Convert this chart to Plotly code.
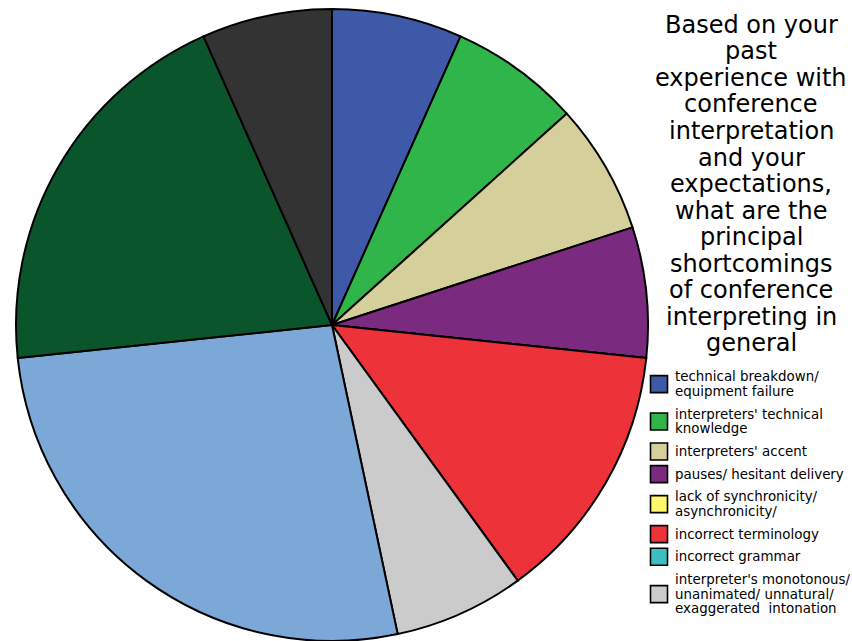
import plotly.graph_objects as go

# Survey responses: number of respondents naming each shortcoming
labels = [
    "technical breakdown/<br>equipment failure",
    "interpreters' technical<br>knowledge",
    "interpreters' accent",
    "pauses/ hesitant delivery",
    "lack of synchronicity/<br>asynchronicity/",
    "incorrect terminology",
    "incorrect grammar",
    "interpreter's monotonous/<br>unanimated/ unnatural/<br>exaggerated  intonation",
    "incomplete rendition/<br>omissions",
    "interpreters' voice/<br>delivery",
    "other",
]
counts = [1, 1, 1, 1, 0, 2, 0, 1, 4, 3, 1]
colors = [
    "#3F59A9", "#2FB54A", "#D5CF9B", "#7A2A7F", "#FFF86D", "#EE3239",
    "#3DBFC1", "#CBCBCB", "#7BA8D6", "#0B552D", "#333333",
]

title_lines = [
    "Based on your", "past", "experience with", "conference",
    "interpretation", "and your", "expectations,", "what are the",
    "principal", "shortcomings", "of conference", "interpreting in",
    "general",
]

W, H = 852, 641
FONT = "DejaVu Sans"


def px(x):
    return x / W


def py(y):
    return 1 - y / H


fig = go.Figure(
    go.Pie(
        labels=labels,
        values=counts,
        sort=False,
        direction="clockwise",
        rotation=0,
        marker=dict(colors=colors, line=dict(color="#000000", width=2)),
        textinfo="none",
        hoverinfo="label+value+percent",
        showlegend=False,
        domain=dict(x=[px(16), px(648)], y=[0, py(9)]),
    )
)

# Question text, one centred line at a time
for i, line in enumerate(title_lines):
    fig.add_annotation(
        text=line,
        x=px(751),
        y=py(25 + i * 26.5),
        xref="paper",
        yref="paper",
        xanchor="center",
        yanchor="middle",
        showarrow=False,
        font=dict(family=FONT, size=24, color="#000000"),
    )

# Key: a bordered swatch beside each (possibly multi-line) label,
# listed downwards until the space below the question runs out
LINE_STEP = 14.8
ITEM_STEP = 22.6
y_line = 376.7
for label, color in zip(labels, colors):
    parts = label.split("<br>")
    y_last = y_line + (len(parts) - 1) * LINE_STEP
    if y_last + 7 > H:
        break
    y_mid = (y_line + y_last) / 2
    fig.add_shape(
        type="rect",
        xref="paper",
        yref="paper",
        x0=px(650.5),
        x1=px(667.5),
        y0=py(y_mid - 8.5),
        y1=py(y_mid + 8.5),
        fillcolor=color,
        line=dict(color="#000000", width=1.6),
    )
    for j, part in enumerate(parts):
        fig.add_annotation(
            text=part,
            x=px(673),
            y=py(y_line + j * LINE_STEP),
            xref="paper",
            yref="paper",
            xanchor="left",
            yanchor="middle",
            showarrow=False,
            font=dict(family=FONT, size=13.4, color="#000000"),
        )
    y_line = y_last + ITEM_STEP

fig.update_layout(
    width=W,
    height=H,
    margin=dict(l=0, r=0, t=0, b=0),
    paper_bgcolor="#FFFFFF",
    plot_bgcolor="#FFFFFF",
    showlegend=False,
)

fig.write_html("out.html")
